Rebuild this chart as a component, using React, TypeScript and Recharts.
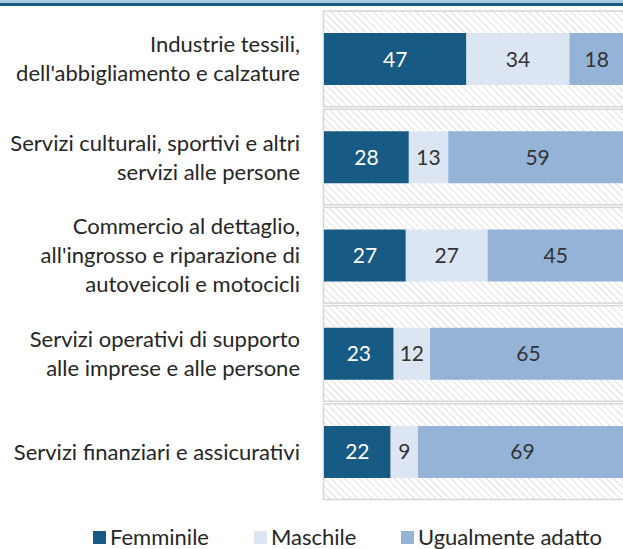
import React from "react"
import { BarChart, Bar, XAxis, YAxis, ReferenceArea, LabelList, Legend } from "recharts"

const categories = [
  "Industrie tessili,\ndell'abbigliamento e calzature",
  "Servizi culturali, sportivi e altri\nservizi alle persone",
  "Commercio al dettaglio,\nall'ingrosso e riparazione di\nautoveicoli e motocicli",
  "Servizi operativi di supporto\nalle imprese e alle persone",
  "Servizi finanziari e assicurativi",
]
const femminile = [47, 28, 27, 23, 22]
const maschile = [34, 13, 27, 12, 9]
const ugualmente = [18, 59, 45, 65, 69]

const SERIES = [
  { key: "femminile", name: "Femminile", color: "#175a84", text: "#ffffff", left: 93 },
  { key: "maschile", name: "Maschile", color: "#dce6f2", text: "#333333", left: 254 },
  { key: "ugualmente", name: "Ugualmente adatto", color: "#95b3d7", text: "#333333", left: 401 },
]

const FONT = "Lato, 'Open Sans', sans-serif"

const data = categories.map((c, i) => ({
  category: c,
  femminile: femminile[i],
  maschile: maschile[i],
  ugualmente: ugualmente[i],
}))

function CategoryTick(props: any) {
  const { x, y, payload } = props
  const lines = String(payload.value).split("\n")
  const lh = 29
  const start = y - ((lines.length - 1) * lh) / 2
  return (
    <text x={x - 24} y={start} textAnchor="end" fill="#262626" fontSize={22} fontFamily={FONT}>
      {lines.map((l, i) => (
        <tspan key={i} x={x - 24} y={start + i * lh} dy="0.35em">
          {l}
        </tspan>
      ))}
    </text>
  )
}

function BandBox(props: any) {
  const { x, y, width, height } = props
  return (
    <rect
      x={x - 0.5}
      y={y + 1}
      width={width + 1}
      height={height - 2.5}
      fill="url(#hatch)"
      stroke="#d6d6d6"
      strokeWidth={1.5}
    />
  )
}

function LegendContent() {
  return (
    <div style={{ position: "relative", height: 48, fontFamily: FONT, fontSize: 22, color: "#262626", whiteSpace: "nowrap" }}>
      {SERIES.map((s) => (
        <span
          key={s.key}
          style={{ position: "absolute", left: s.left, top: 26, display: "inline-flex", alignItems: "center", lineHeight: "20px" }}
        >
          <span style={{ width: 13, height: 13, background: s.color, marginRight: 4, display: "inline-block" }} />
          {s.name}
        </span>
      ))}
    </div>
  )
}

export default function App() {
  return (
    <div style={{ position: "absolute", left: 0, top: 0, width: 623, height: 549, overflow: "hidden", background: "#fff" }}>
      <div style={{ position: "absolute", left: 0, top: 0, width: 623, height: 3, background: "#a8c7e5" }} />
      <div style={{ position: "absolute", left: 0, top: 3, width: 623, height: 2.5, background: "#1a5a85" }} />
      <BarChart
        width={640}
        height={549}
        data={data}
        layout="vertical"
        margin={{ top: 10, right: 13, bottom: 0, left: 0 }}
        barCategoryGap="23.5%"
      >
        <defs>
          <pattern id="hatch" patternUnits="userSpaceOnUse" width={5} height={5} patternTransform="rotate(-45)">
            <rect width={5} height={5} fill="#ffffff" />
            <line x1={0} y1={0} x2={0} y2={5} stroke="#dadada" strokeWidth={1.6} />
          </pattern>
        </defs>
        <XAxis type="number" domain={[0, 100]} hide />
        <YAxis
          type="category"
          dataKey="category"
          width={324}
          axisLine={false}
          tickLine={false}
          tickSize={0}
          tickMargin={0}
          interval={0}
          tick={<CategoryTick />}
        />
        {categories.map((c) => (
          <ReferenceArea key={c} y1={c} y2={c} shape={<BandBox />} ifOverflow="visible" />
        ))}
        {SERIES.map((s) => (
          <Bar key={s.key} dataKey={s.key} name={s.name} stackId="a" fill={s.color} isAnimationActive={false}>
            <LabelList dataKey={s.key} position="center" fill={s.text} fontSize={21} fontFamily={FONT} />
          </Bar>
        ))}
        <Legend verticalAlign="bottom" content={<LegendContent />} />
      </BarChart>
    </div>
  )
}
